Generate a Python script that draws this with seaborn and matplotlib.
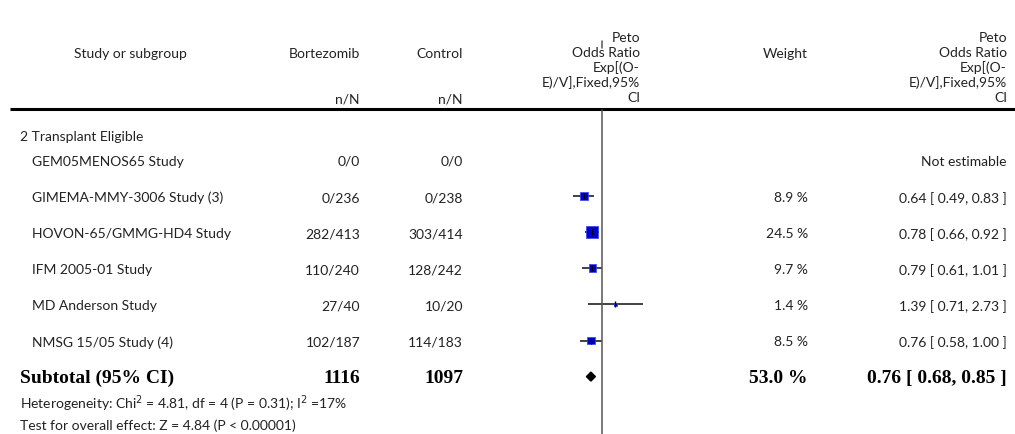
import matplotlib
matplotlib.use("Agg")
import matplotlib.pyplot as plt
import seaborn as sns
import numpy as np
import pandas as pd

sns.set_theme(style="white")
plt.rcParams['font.family'] = ['Lato', 'DejaVu Sans']

# Datos del forest plot
grupo = "2 Transplant Eligible"
estudios = ["GEM05MENOS65 Study", "GIMEMA-MMY-3006 Study (3)", "HOVON-65/GMMG-HD4 Study",
            "IFM 2005-01 Study", "MD Anderson Study", "NMSG 15/05 Study (4)"]
bortezomib = ["0/0", "0/236", "282/413", "110/240", "27/40", "102/187"]
control = ["0/0", "0/238", "303/414", "128/242", "10/20", "114/183"]
peso = [np.nan, 8.9, 24.5, 9.7, 1.4, 8.5]
odds = [np.nan, 0.64, 0.78, 0.79, 1.39, 0.76]
ci_inf = [np.nan, 0.49, 0.66, 0.61, 0.71, 0.58]
ci_sup = [np.nan, 0.83, 0.92, 1.01, 2.73, 1.00]
texto_or = ["Not estimable", "0.64 [ 0.49, 0.83 ]", "0.78 [ 0.66, 0.92 ]", "0.79 [ 0.61, 1.01 ]",
            "1.39 [ 0.71, 2.73 ]", "0.76 [ 0.58, 1.00 ]"]

subtotal_n = ["1116", "1097"]
subtotal_peso = "53.0 %"
subtotal_or = 0.76
subtotal_ci = [0.68, 0.85]
subtotal_texto = "0.76 [ 0.68, 0.85 ]"
heterogeneidad = "Heterogeneity: Chi$^{2}$ = 4.81, df = 4 (P = 0.31); I$^{2}$ =17%"
efecto_global = "Test for overall effect: Z = 4.84 (P < 0.00001)"

W, H = 1015, 434
fig = plt.figure(figsize=(W / 100, H / 100), dpi=100)
ax = fig.add_axes([0, 0, 1, 1])
ax.set_xlim(0, W)
ax.set_ylim(H, 0)
ax.axis('off')

# Posiciones de filas (pixeles)
y_filas = 160 + 36.1 * np.arange(len(estudios))
y_sub = 160 + 36.1 * len(estudios)
dy_txt = 2  # ajuste vertical del texto

fs = 10
col = '#222222'
or_header = "Peto\nOdds Ratio\nExp[(O-\nE)/V],Fixed,95%\nCI"

def txt(x, y, s, ha='left', **kw):
    opts = dict(fontsize=fs, color=col)
    opts.update(kw)
    ax.text(x, y + dy_txt, s, ha=ha, va='center', **opts)

# Encabezados
txt(130, 52, "Study or subgroup", ha='center')
txt(360, 52, "Bortezomib", ha='right')
txt(463, 52, "Control", ha='right')
txt(360, 97, "n/N", ha='right')
txt(463, 97, "n/N", ha='right')
txt(640, 66, or_header, ha='right', linespacing=1.22)
txt(808, 52, "Weight", ha='right')
txt(1007, 66, or_header, ha='right', linespacing=1.22)
ax.plot([10, W], [109, 109], color='black', lw=2.2, solid_capstyle='butt')

txt(20, 135, grupo)
for i, nombre in enumerate(estudios):
    y = y_filas[i]
    txt(32, y, nombre)
    txt(360, y, bortezomib[i], ha='right')
    txt(463, y, control[i], ha='right')
    if not np.isnan(peso[i]):
        txt(808, y, f"{peso[i]:.1f} %", ha='right')
    txt(1007, y, texto_or[i], ha='right')

serif = dict(family=['Liberation Serif', 'DejaVu Serif'], fontweight='bold', fontsize=14, color='black')
txt(20, y_sub, "Subtotal (95% CI)", **serif)
txt(360, y_sub, subtotal_n[0], ha='right', **serif)
txt(463, y_sub, subtotal_n[1], ha='right', **serif)
txt(808, y_sub, subtotal_peso, ha='right', **serif)
txt(1007, y_sub, subtotal_texto, ha='right', **serif)
txt(20, 402, heterogeneidad)
txt(20, 424, efecto_global)

# Panel del forest plot (escala logaritmica, 0.1 a 10)
fx0, fx1 = 509, 695
fax = fig.add_axes([fx0 / W, 0, (fx1 - fx0) / W, 1])
fax.patch.set_alpha(0)

df = pd.DataFrame({'y': y_filas, 'OR': odds, 'lo': ci_inf, 'hi': ci_sup, 'peso': peso}).dropna()
fax.hlines(df['y'], df['lo'], df['hi'], color='#333333', lw=1.3)
sns.scatterplot(data=df, x='OR', y='y', size='peso', sizes=(2, 75), size_norm=(0, 24.5),
                marker='s', color='#0000cc', edgecolor='#3344ee', linewidth=0.5,
                legend=False, ax=fax, zorder=3)
fax.vlines(df['OR'], df['y'] - 3, df['y'] + 3, color='black', lw=1, zorder=4)

fax.plot([1, 1], [110, H], color='#555555', lw=1.1)
fax.plot([1, 1], [41, 48], color='#555555', lw=1.1)

# Diamante del subtotal
dx = [subtotal_ci[0], subtotal_or, subtotal_ci[1], subtotal_or]
dy = [y_sub, y_sub - 4.5, y_sub, y_sub + 4.5]
fax.fill(dx, dy, color='black', zorder=4)

fax.set_xscale('log')
fax.set_xlim(0.1, 10)
fax.set_ylim(H, 0)
fax.axis('off')

plt.savefig("out.png", dpi=100)
